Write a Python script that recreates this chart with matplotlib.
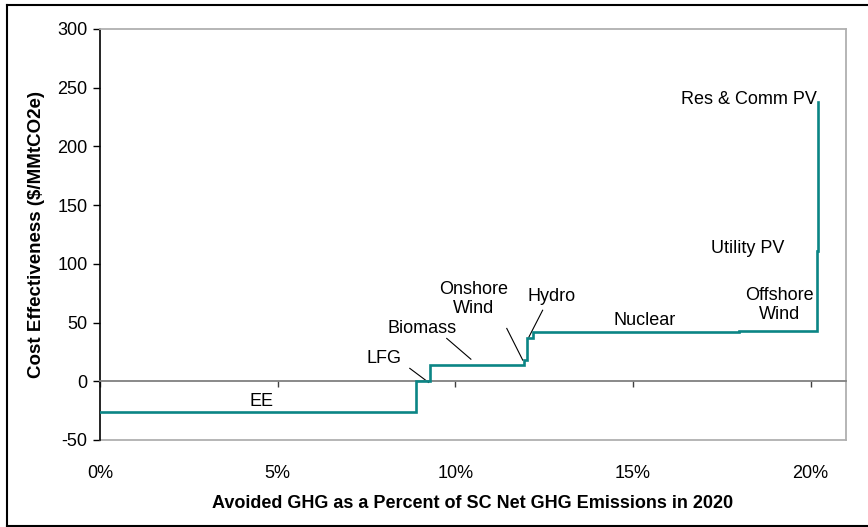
import matplotlib.pyplot as plt
from matplotlib.lines import Line2D

plt.rcParams['font.family'] = ['Liberation Sans', 'DejaVu Sans']
plt.rcParams['axes.unicode_minus'] = False

# measures in supply-curve order
measures = ['EE', 'LFG', 'Biomass', 'Onshore Wind', 'Hydro', 'Nuclear',
            'Offshore Wind', 'Utility PV', 'Res & Comm PV']
pct_start = [0.0, 8.9, 9.28, 11.93, 12.01, 12.18, 18.0, 20.17, 20.2]
pct_end = [8.9, 9.28, 11.93, 12.01, 12.18, 18.0, 20.17, 20.2, 20.22]
cost = [-26, 0, 14, 18, 37, 42, 43, 111, 238]

xticks = [0, 5, 10, 15, 20]
xticklabels = ['0%', '5%', '10%', '15%', '20%']
yticks = [-50, 0, 50, 100, 150, 200, 250, 300]

# label text, label position, leader line (from, to) or None
labels = [
    ('EE', (4.56, -17), None),
    ('LFG', (8.0, 19), ((8.72, 11), (9.25, -1))),
    ('Biomass', (9.06, 45), ((9.76, 36.5), (10.44, 18.8))),
    ('Onshore\nWind', (10.52, 70), ((11.45, 45), (11.9, 18))),
    ('Hydro', (12.72, 72), ((12.46, 60.5), (12.07, 37.5))),
    ('Nuclear', (15.33, 52), None),
    ('Offshore\nWind', (19.13, 65), None),
    ('Utility PV', (18.23, 113), None),
    ('Res & Comm PV', (18.26, 240), None),
]

fig = plt.figure(figsize=(8.68, 5.27), dpi=100)
ax = fig.add_axes([0.1152, 0.1651, 0.8595, 0.7799])

# build the step outline from the segments
xs, ys = [], []
for s, e, c in zip(pct_start, pct_end, cost):
    xs += [s, e]
    ys += [c, c]
ax.plot(xs, ys, color='#0b8585', lw=1.9, solid_joinstyle='miter', zorder=3)

for txt, pos, lead in labels:
    ax.text(pos[0], pos[1], txt, ha='center', va='center', fontsize=13,
            linespacing=1.15, zorder=4)
    if lead is not None:
        ax.plot([lead[0][0], lead[1][0]], [lead[0][1], lead[1][1]],
                color='black', lw=0.8, zorder=2)

ax.set_xlim(0, 21)
ax.set_ylim(-50, 300)
ax.set_yticks(yticks)
ax.set_xticks(xticks)
ax.set_xticklabels(xticklabels)

# x axis crosses at zero
ax.spines['bottom'].set_position(('data', 0))
ax.spines['bottom'].set_color('#808080')
ax.spines['bottom'].set_linewidth(1.3)
ax.axhline(-50, color='#b0b0b0', lw=1.3, clip_on=False)
for s in ['top', 'right']:
    ax.spines[s].set_color('#b0b0b0')
    ax.spines[s].set_linewidth(1.3)
ax.spines['left'].set_color('black')
ax.spines['left'].set_linewidth(1.2)

ax.tick_params(axis='x', direction='out', length=4, width=1, color='#404040',
               pad=56, labelsize=13)
ax.tick_params(axis='y', direction='out', length=5, width=1, color='black',
               labelsize=13, pad=4)
for lab in ax.get_xticklabels():
    lab.set_fontstretch('condensed')

ax.set_xlabel('Avoided GHG as a Percent of SC Net GHG Emissions in 2020',
              fontsize=13, fontweight='bold', labelpad=10)
ax.set_ylabel('Cost Effectiveness ($/MMtCO2e)', fontsize=13.5,
              fontweight='bold', labelpad=9)

# outer frame of the chart
for (x0, y0, x1, y1) in [(0.008, 0.99, 1.0, 0.99), (0.008, 0.002, 1.0, 0.002),
                         (0.008, 0.002, 0.008, 0.99)]:
    fig.add_artist(Line2D([x0, x1], [y0, y1], color='black', lw=1.5,
                          transform=fig.transFigure))

fig.savefig('out.png', dpi=100)
